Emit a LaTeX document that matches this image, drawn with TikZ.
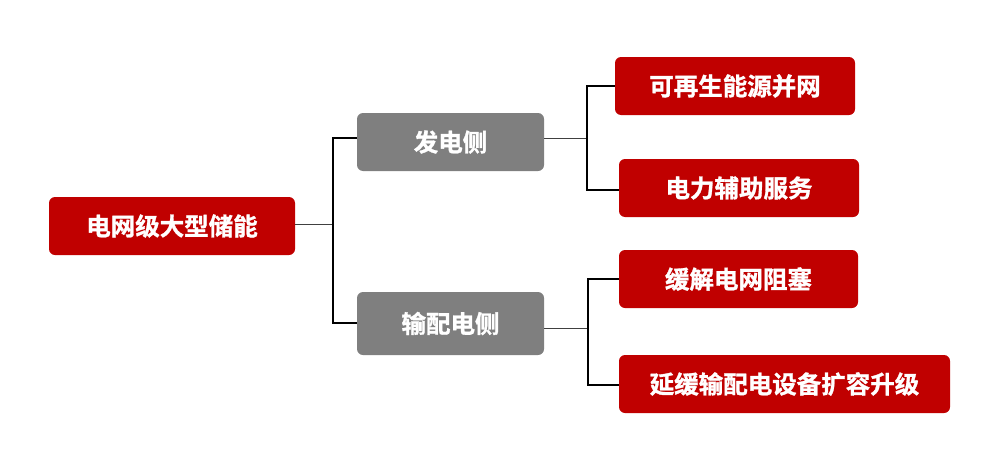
\documentclass[tikz,border=0pt]{standalone}
\usepackage{fontspec}
\usepackage{xcolor}
\usetikzlibrary{positioning}
\newfontfamily\cjkbold[FakeBold=1.2]{Noto Sans CJK SC Bold}
\definecolor{gridRed}{RGB}{192,0,0}
\definecolor{sideGray}{RGB}{127,127,127}

\tikzset{
  redbox/.style={fill=gridRed, rounded corners=6pt, text=white, minimum height=58pt,
                 font=\cjkbold\fontsize{24.5}{26}\selectfont, inner sep=0pt},
  graybox/.style={fill=sideGray, rounded corners=6pt, text=white, minimum height=58pt,
                  minimum width=187pt, font=\cjkbold\fontsize{24.5}{26}\selectfont, inner sep=0pt},
  link/.style={draw=black, line width=1.4pt},
  thinlink/.style={draw=black!75, line width=0.8pt}
}

\begin{document}
\begin{tikzpicture}[x=1pt, y=-1pt]
  \useasboundingbox (0,0) rectangle (994,474);

  \node[redbox, minimum width=246pt] (root) at (172,226) {电网级大型储能};

  \node[graybox] (gen) at (450.5,142) {发电侧};
  \node[graybox, minimum height=63pt] (dist) at (450.5,323.5) {输配电侧};

  \node[redbox, minimum width=240pt] (renew) at (735,86) {可再生能源并网};
  \node[redbox, minimum width=240pt] (aux) at (739,188) {电力辅助服务};
  \node[redbox, minimum width=239pt] (congest) at (738.5,279) {缓解电网阻塞};
  \node[redbox, minimum width=331pt] (defer) at (784.5,384) {延缓输配电设备扩容升级};

  % junctions
  \coordinate (jroot) at (333,224);
  \coordinate (jgen) at (587,138);
  \coordinate (jdist) at (588,328);

  \draw[thinlink] (root.east |- jroot) -- (jroot);
  \draw[link] (jroot) |- (gen.west |- 0,138);
  \draw[link] (jroot) |- (dist.west |- 0,323);

  \draw[thinlink] (gen.east |- jgen) -- (jgen);
  \draw[link] (jgen) |- (renew.west);
  \draw[link] (jgen) |- (aux.west |- 0,190);

  \draw[thinlink] (dist.east |- jdist) -- (jdist);
  \draw[link] (jdist) |- (congest.west);
  \draw[link] (jdist) |- (defer.west |- 0,385);
\end{tikzpicture}
\end{document}
